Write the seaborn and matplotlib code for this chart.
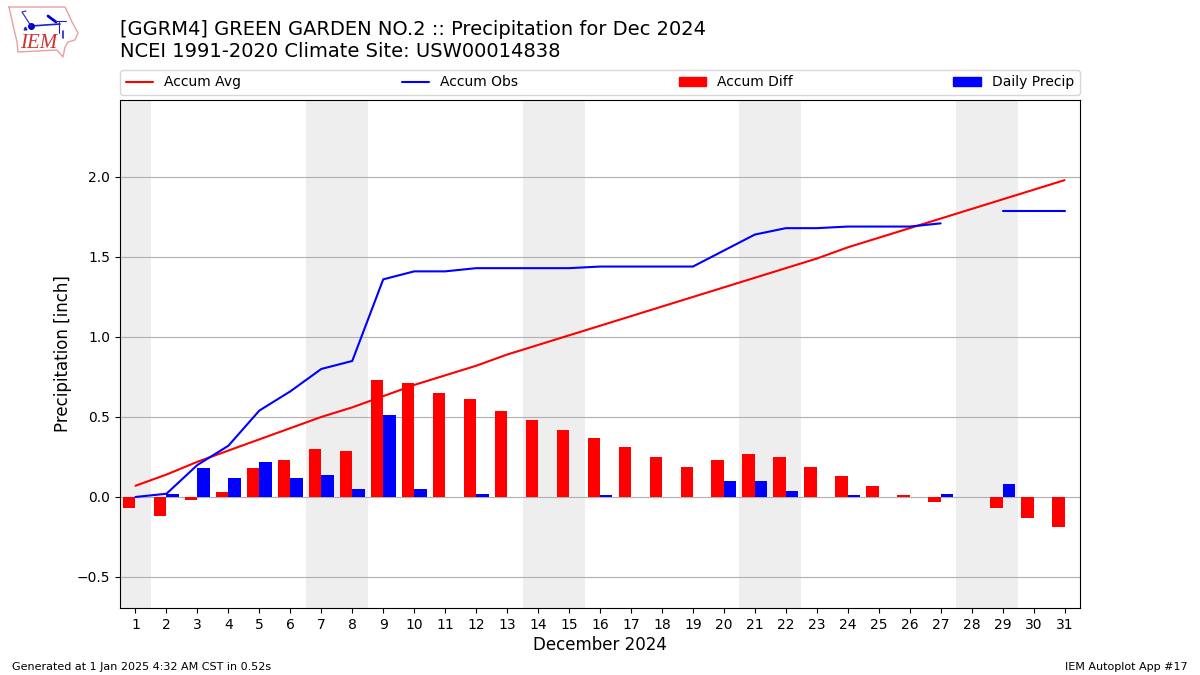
"""
IEM Autoplot 17: daily precipitation and accumulated departure, Dec 2024.
"""

import matplotlib
matplotlib.use("Agg")
import matplotlib.pyplot as plt
import numpy as np
import pandas as pd
import seaborn as sns
from matplotlib.patches import Patch

days = list(range(1, 32))
accum_avg = [0.07, 0.14, 0.22, 0.29, 0.36, 0.43, 0.50, 0.56, 0.63, 0.70, 0.76,
             0.82, 0.89, 0.95, 1.01, 1.07, 1.13, 1.19, 1.25, 1.31, 1.37, 1.43,
             1.49, 1.56, 1.62, 1.68, 1.74, 1.80, 1.86, 1.92, 1.98]
# day 28 is missing from the observations
accum_obs = [0.00, 0.02, 0.20, 0.32, 0.54, 0.66, 0.80, 0.85, 1.36, 1.41, 1.41,
             1.43, 1.43, 1.43, 1.43, 1.44, 1.44, 1.44, 1.44, 1.54, 1.64, 1.68,
             1.68, 1.69, 1.69, 1.69, 1.71, np.nan, 1.79, 1.79, 1.79]
accum_diff = [-0.07, -0.12, -0.02, 0.03, 0.18, 0.23, 0.30, 0.29, 0.73, 0.71,
              0.65, 0.61, 0.54, 0.48, 0.42, 0.37, 0.31, 0.25, 0.19, 0.23, 0.27,
              0.25, 0.19, 0.13, 0.07, 0.01, -0.03, np.nan, -0.07, -0.13, -0.19]
daily_precip = [0.00, 0.02, 0.18, 0.12, 0.22, 0.12, 0.14, 0.05, 0.51, 0.05,
                0.00, 0.02, 0.00, 0.00, 0.00, 0.01, 0.00, 0.00, 0.00, 0.10,
                0.10, 0.04, 0.00, 0.01, 0.00, 0.00, 0.02, 0.00, 0.08, 0.00,
                0.00]
weekend_runs = [(1, 1), (7, 8), (14, 15), (21, 22), (28, 29)]
y_ticks = [-0.5, 0.0, 0.5, 1.0, 1.5, 2.0]

# Iowa outline for the logo, in logo pixels
iowa_x = [9, 65, 68, 72, 78, 75, 68, 65, 63, 57, 18, 17, 13, 9]
iowa_y = [7, 7, 13, 22, 33, 40, 42, 47, 57, 50, 52, 42, 25, 7]

bars = pd.DataFrame({
    "day": days * 2,
    "value": accum_diff + daily_precip,
    "series": ["Accum Diff"] * 31 + ["Daily Precip"] * 31,
})
lines = pd.DataFrame({"day": days, "avg": accum_avg, "obs": accum_obs})

sns.set_style("white")
plt.rcParams["font.family"] = "DejaVu Sans"
plt.rcParams["text.color"] = "black"
plt.rcParams["axes.labelcolor"] = "black"
plt.rcParams["xtick.color"] = "black"
plt.rcParams["ytick.color"] = "black"

fig = plt.figure(figsize=(12, 6.75), dpi=100)
ax = fig.add_axes([0.1, 1 - 608 / 675, 0.8, 508 / 675])

for start, end in weekend_runs:
    ax.axvspan(start - 0.5, end + 0.5, color="#EEEEEE", lw=0, zorder=0)

sns.barplot(data=bars, x="day", y="value", hue="series", native_scale=True,
            palette={"Accum Diff": "red", "Daily Precip": "blue"},
            width=0.8, gap=0, errorbar=None, legend=False, saturation=1,
            linewidth=0, edgecolor="none", ax=ax)

sns.lineplot(data=lines, x="day", y="avg", color="red", lw=1.5, ax=ax, zorder=3)
# two pieces, so the line breaks at the missing day
for piece in (lines[lines["day"] < 28], lines[lines["day"] > 28]):
    sns.lineplot(data=piece, x="day", y="obs", color="blue", lw=1.5, ax=ax, zorder=3)

ax.set_xlim(0.5, 31.5)
ax.set_ylim(-0.694, 2.481)
ax.set_xticks(days)
ax.set_xticklabels([str(d) for d in days])
ax.set_yticks(y_ticks)
ax.tick_params(axis="both", length=3.5, width=0.8, labelsize=10, left=True, bottom=True)
ax.set_axisbelow(True)
ax.yaxis.grid(True, color="#b0b0b0", lw=0.8)
ax.set_xlabel("December 2024", fontsize=12, labelpad=3.2)
ax.set_ylabel("Precipitation [inch]", fontsize=12, labelpad=3.2)
for spine in ax.spines.values():
    spine.set_color("black")
    spine.set_linewidth(0.8)

handles = [
    plt.Line2D([], [], color="red", lw=1.5, label="Accum Avg"),
    plt.Line2D([], [], color="blue", lw=1.5, label="Accum Obs"),
    Patch(color="red", label="Accum Diff"),
    Patch(color="blue", label="Daily Precip"),
]
ax.legend(handles=handles, ncol=4, mode="expand", loc="lower left",
          bbox_to_anchor=(0, 1.010, 1, 0.05), borderaxespad=0, fontsize=10)

fig.text(0.1, 1 - 20 / 675, "[GGRM4] GREEN GARDEN NO.2 :: Precipitation for Dec 2024\n"
         "NCEI 1991-2020 Climate Site: USW00014838", fontsize=14, va="top")
fig.text(0.01, 0.008, "Generated at 1 Jan 2025 4:32 AM CST in 0.52s", fontsize=8)
fig.text(0.99, 0.008, "IEM Autoplot App #17", fontsize=8, ha="right")

# logo: state outline, station glyph and the IEM letters
logo = fig.add_axes([0, 1 - 65 / 675, 90 / 1200, 65 / 675])
logo.set_xlim(0, 90)
logo.set_ylim(65, 0)
logo.axis("off")
logo.plot(iowa_x, iowa_y, color="#E8A0A0", lw=1)
logo.plot([31, 60], [26, 24], color="#2020D0", lw=1.2)
logo.plot([31], [26], "o", color="#0000CC", ms=4)
logo.plot([48, 56], [16, 22], color="#0000CC", lw=2)
logo.plot([55, 66], [21, 21], color="#2020D0", lw=0.8)
logo.plot([59, 59], [22, 33], color="#2020D0", lw=0.8)
logo.plot([63, 63], [31, 38], color="#2020D0", lw=1.2)
logo.plot([26, 22, 31], [11, 12, 26], color="#2020D0", lw=0.8)
logo.plot([25], [28], "^", color="#2020D0", ms=2)
logo.text(20, 53, "IEM", color="#CC3333", fontsize=15, style="italic",
          family="Liberation Serif", va="bottom")

fig.savefig("out.png", dpi=100)
plt.close(fig)
